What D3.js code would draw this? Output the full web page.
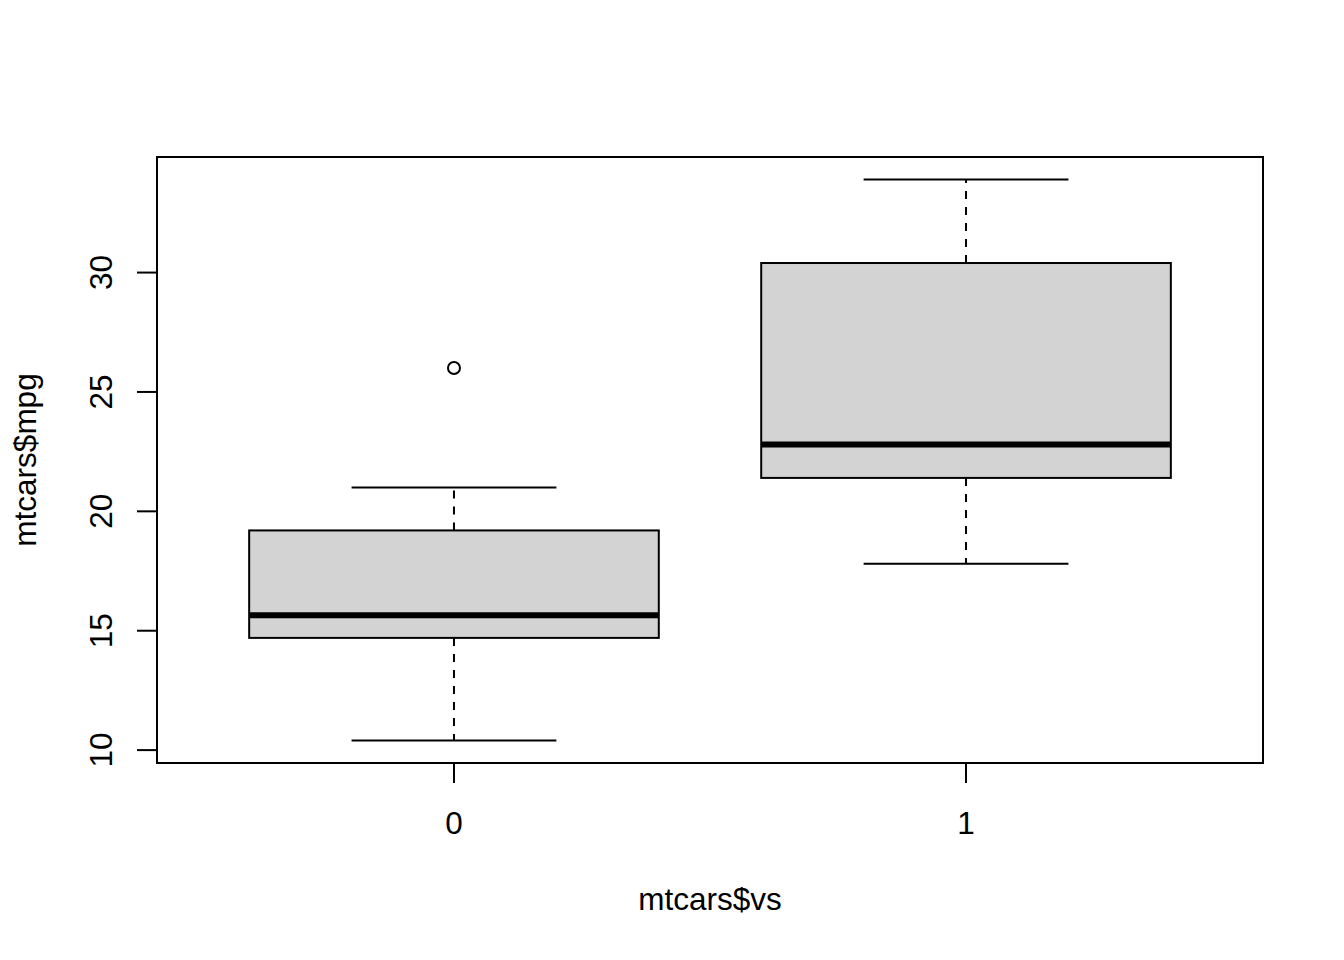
<!DOCTYPE html>
<html>
<head>
<meta charset="utf-8">
<script src="https://cdn.jsdelivr.net/npm/d3@7"></script>
<style>
  html, body { margin: 0; padding: 0; background: #fff; }
  svg text { font-family: "Liberation Sans", Arial, sans-serif; fill: #000; }
</style>
</head>
<body>
<svg id="chart" width="1344" height="960"></svg>
<script>
// Data: boxplot of mtcars$mpg by mtcars$vs
const groups = ["0", "1"];
const lowerWhisker = [10.4, 17.8];
const lowerHinge   = [14.7, 21.4];
const medians      = [15.65, 22.8];
const upperHinge   = [19.2, 30.4];
const upperWhisker = [21.0, 33.9];
const outliers     = [[26.0], []];
const yTicks = [10, 15, 20, 25, 30];
const xTitle = "mtcars$vs";
const yTitle = "mtcars$mpg";

(function () {
const svg = d3.select("#chart");
const pLeft = 157, pRight = 1263, pTop = 157, pBottom = 763;
const fontSize = 31.5;

// R-style extended ranges (4%)
const yMin = d3.min(lowerWhisker), yMax = d3.max(upperWhisker);
const yPad = (yMax - yMin) * 0.04;
const y = d3.scaleLinear().domain([yMin - yPad, yMax + yPad]).range([pBottom, pTop]);
const x = d3.scaleLinear().domain([0.5 - 0.08, groups.length + 0.5 + 0.08]).range([pLeft, pRight]);

const boxHalf = 0.4, stapleHalf = 0.2;

const g = svg.append("g");

groups.forEach((grp, i) => {
  const cx = x(i + 1);
  // whiskers (dashed)
  g.append("line").attr("x1", cx).attr("x2", cx)
    .attr("y1", y(upperHinge[i])).attr("y2", y(upperWhisker[i]))
    .attr("stroke", "#000").attr("stroke-width", 2).attr("stroke-dasharray", "8,8");
  g.append("line").attr("x1", cx).attr("x2", cx)
    .attr("y1", y(lowerHinge[i])).attr("y2", y(lowerWhisker[i]))
    .attr("stroke", "#000").attr("stroke-width", 2).attr("stroke-dasharray", "8,8");
  // staples
  [upperWhisker[i], lowerWhisker[i]].forEach(v => {
    g.append("line").attr("x1", x(i + 1 - stapleHalf)).attr("x2", x(i + 1 + stapleHalf))
      .attr("y1", y(v)).attr("y2", y(v))
      .attr("stroke", "#000").attr("stroke-width", 2);
  });
  // box
  g.append("rect")
    .attr("x", x(i + 1 - boxHalf)).attr("width", x(i + 1 + boxHalf) - x(i + 1 - boxHalf))
    .attr("y", y(upperHinge[i])).attr("height", y(lowerHinge[i]) - y(upperHinge[i]))
    .attr("fill", "#d3d3d3").attr("stroke", "#000").attr("stroke-width", 2);
  // median
  g.append("line").attr("x1", x(i + 1 - boxHalf)).attr("x2", x(i + 1 + boxHalf))
    .attr("y1", y(medians[i])).attr("y2", y(medians[i]))
    .attr("stroke", "#000").attr("stroke-width", 6);
  // outliers
  outliers[i].forEach(v => {
    g.append("circle").attr("cx", cx).attr("cy", y(v)).attr("r", 6)
      .attr("fill", "none").attr("stroke", "#000").attr("stroke-width", 2);
  });
});

// plot frame
svg.append("rect").attr("x", pLeft).attr("y", pTop)
  .attr("width", pRight - pLeft).attr("height", pBottom - pTop)
  .attr("fill", "none").attr("stroke", "#000").attr("stroke-width", 2);

// Y axis
const yAxis = svg.append("g");
yTicks.forEach(t => {
  yAxis.append("line").attr("x1", pLeft - 20).attr("x2", pLeft)
    .attr("y1", y(t)).attr("y2", y(t)).attr("stroke", "#000").attr("stroke-width", 2);
  yAxis.append("text")
    .attr("transform", `translate(112,${y(t)}) rotate(-90)`)
    .attr("text-anchor", "middle").attr("font-size", fontSize).text(t);
});

// X axis
const xAxis = svg.append("g");
groups.forEach((grp, i) => {
  const cx = x(i + 1);
  xAxis.append("line").attr("x1", cx).attr("x2", cx)
    .attr("y1", pBottom).attr("y2", pBottom + 20).attr("stroke", "#000").attr("stroke-width", 2);
  xAxis.append("text").attr("x", cx).attr("y", 834)
    .attr("text-anchor", "middle").attr("font-size", fontSize).text(grp);
});

// Titles
svg.append("text").attr("x", (pLeft + pRight) / 2).attr("y", 910)
  .attr("text-anchor", "middle").attr("font-size", fontSize).text(xTitle);
svg.append("text").attr("transform", `translate(36,${(pTop + pBottom) / 2}) rotate(-90)`)
  .attr("text-anchor", "middle").attr("font-size", fontSize).text(yTitle);
})();
</script>
</body>
</html>
